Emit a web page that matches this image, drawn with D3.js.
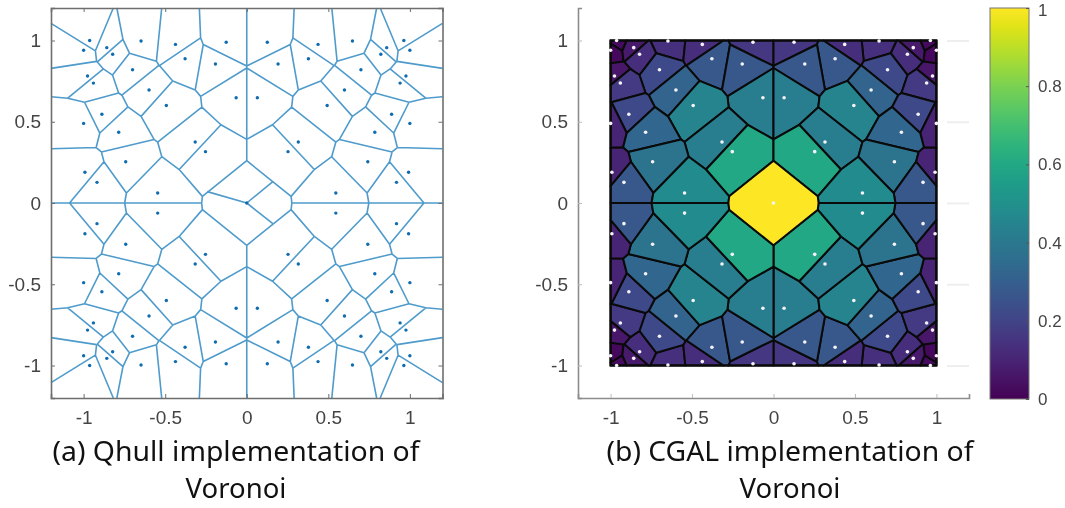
<!DOCTYPE html>
<html><head><meta charset="utf-8">
<script src="https://cdn.jsdelivr.net/npm/d3@7"></script>
<style>
html,body{margin:0;padding:0;background:#fff;}
svg{display:block;filter:blur(0.45px);}
text{font-family:"Liberation Sans",Arial,sans-serif;}
</style></head><body>
<svg id="chart" width="1065" height="508"></svg>
<script>
// Sites: upper-left, upper-right, lower-right, lower-left, then the centre
const pointX = [
 -.963,-1,-.858,-.822,-.648,-.437,-.126,-.378,-.192,-.70,-.976,-.94,-.599,-.065,-.493,-.888,-1,-.785,-.316,-.253,-.742,-.992,-.918,-.546,
 .963,1,.858,.822,.648,.437,.126,.378,.192,.70,.976,.94,.599,.065,.493,.888,1,.785,.316,.253,.742,.992,.918,.546,
 .963,1,.858,.822,.648,.437,.126,.378,.192,.70,.976,.94,.599,.065,.493,.888,1,.785,.316,.253,.742,.992,.918,.546,
 -.963,-1,-.858,-.822,-.648,-.437,-.126,-.378,-.192,-.70,-.976,-.94,-.599,-.065,-.493,-.888,-1,-.785,-.316,-.253,-.742,-.992,-.918,-.546,
 0];
const pointY = [
 1,.94,.956,.915,.997,.976,.989,.888,.855,.82,.782,.738,.695,.648,.6,.546,.49,.435,.375,.316,.254,.189,.127,.062,
 1,.94,.956,.915,.997,.976,.989,.888,.855,.82,.782,.738,.695,.648,.6,.546,.49,.435,.375,.316,.254,.189,.127,.062,
 -1,-.94,-.956,-.915,-.997,-.976,-.989,-.888,-.855,-.82,-.782,-.738,-.695,-.648,-.6,-.546,-.49,-.435,-.375,-.316,-.254,-.189,-.127,-.062,
 -1,-.94,-.956,-.915,-.997,-.976,-.989,-.888,-.855,-.82,-.782,-.738,-.695,-.648,-.6,-.546,-.49,-.435,-.375,-.316,-.254,-.189,-.127,-.062,
 0];
// Colour value of each CGAL cell, same order
const cellValue = [
 .03,.02,.07,.13,.14,.13,.16,.27,.27,.22,.06,.17,.32,.42,.45,.22,.1,.33,.42,.6,.38,.1,.27,.48,
 .03,.02,.07,.13,.14,.13,.16,.27,.27,.22,.06,.17,.32,.42,.45,.22,.1,.33,.42,.6,.38,.1,.27,.48,
 .03,.02,.07,.13,.14,.13,.16,.27,.27,.22,.06,.17,.32,.42,.45,.22,.1,.33,.42,.6,.38,.1,.27,.48,
 .03,.02,.07,.13,.14,.13,.16,.27,.27,.22,.06,.17,.32,.42,.45,.22,.1,.33,.42,.6,.38,.1,.27,.48,
 1];
// Extra spokes in the Qhull centre cell
const spokeX = [-.242,.16,.16];
const spokeY = [.07,.131,-.127];
const axisTicks = [-1,-.5,0,.5,1];
const axisLabels = ["-1","-0.5","0","0.5","1"];
const colorTicks = [0,.2,.4,.6,.8,1];
const colorLabels = ["0","0.2","0.4","0.6","0.8","1"];
const captionA = ["(a) Qhull implementation of","Voronoi"];
const captionB = ["(b) CGAL implementation of","Voronoi"];

const svg = d3.select("#chart");
const TXT = "#444";
const FONT = '"Liberation Sans",Arial,sans-serif';
const points = pointX.map((x,i)=>[x,pointY[i]]);
const yScale = d3.scaleLinear().domain([-1.2,1.2]).range([398,8]);
const xA = d3.scaleLinear().domain([-1.2,1.2]).range([51,442.5]);
const xB = d3.scaleLinear().domain([-1.2,1.2]).range([578,969]);

function axes(x, box){
  const grey = box ? "#6e6e6e" : "#8c8c8c";
  const fmt = d => axisLabels[axisTicks.indexOf(d)];
  const gx = svg.append("g").attr("transform",`translate(0,${yScale.range()[0]})`)
    .call(d3.axisBottom(x).tickValues(axisTicks).tickFormat(fmt).tickSize(-4).tickPadding(13));
  const gy = svg.append("g").attr("transform",`translate(${x.range()[0]},0)`)
    .call(d3.axisLeft(yScale).tickValues(axisTicks).tickFormat(fmt).tickSize(-4).tickPadding(10));
  [gx,gy].forEach(g=>{
    g.selectAll("path").attr("stroke",grey).attr("stroke-width",1.6);
    g.selectAll("line").attr("stroke",box?grey:"#bbb");
    g.selectAll("text").attr("fill",TXT).attr("font-size",19).style("font-family",FONT);
  });
  // Right-hand and top axes: full box in (a), only whited-out tick traces in (b)
  const gr = svg.append("g").attr("transform",`translate(${x.range()[1]},0)`)
    .call(d3.axisRight(yScale).tickValues(axisTicks).tickFormat("").tickSize(box?-4:-22));
  gr.selectAll("line").attr("stroke",box?grey:"#eeeeee").attr("stroke-width",box?1:2);
  if(box){
    const gt = svg.append("g").attr("transform",`translate(0,${yScale.range()[1]})`)
      .call(d3.axisTop(x).tickValues(axisTicks).tickFormat("").tickSize(-4));
    gt.selectAll("line").attr("stroke",grey);
    gt.select("path").attr("stroke",grey).attr("stroke-width",1.6);
    gr.select("path").attr("stroke",grey).attr("stroke-width",1.6);
  } else {
    gr.select("path").remove();
  }
}

// Panel (a): Qhull
const delA = d3.Delaunay.from(points,d=>xA(d[0]),d=>yScale(d[1]));
const vorA = delA.voronoi([xA.range()[0],yScale.range()[1],xA.range()[1],yScale.range()[0]]);
svg.append("path").attr("d",vorA.render()).attr("fill","none")
   .attr("stroke","#4f9bcb").attr("stroke-width",1.6);
svg.append("g").selectAll("line").data(spokeX).join("line")
   .attr("x1",xA(0)).attr("y1",yScale(0))
   .attr("x2",d=>xA(d)).attr("y2",(d,i)=>yScale(spokeY[i]))
   .attr("stroke","#4f9bcb").attr("stroke-width",1.6);
svg.append("g").selectAll("circle").data(points).join("circle")
   .attr("cx",d=>xA(d[0])).attr("cy",d=>yScale(d[1])).attr("r",1.7).attr("fill","#0f6cb0");
axes(xA,true);

// Panel (b): CGAL
const color = d3.scaleSequential(d3.interpolateViridis).domain([0,1]);
const delB = d3.Delaunay.from(points,d=>xB(d[0]),d=>yScale(d[1]));
const vorB = delB.voronoi([xB(-1),yScale(1),xB(1),yScale(-1)]);
svg.append("g").selectAll("path").data(points).join("path")
   .attr("d",(d,i)=>vorB.renderCell(i))
   .attr("fill",(d,i)=>color(cellValue[i]))
   .attr("stroke","#0a0a0a").attr("stroke-width",2).attr("stroke-linejoin","round");
svg.append("rect").attr("x",xB(-1)).attr("y",yScale(1)).attr("width",xB(1)-xB(-1)).attr("height",yScale(-1)-yScale(1))
   .attr("fill","none").attr("stroke","#0a0a0a").attr("stroke-width",2.2);
svg.append("g").selectAll("circle").data(points).join("circle")
   .attr("cx",d=>xB(d[0])).attr("cy",d=>yScale(d[1])).attr("r",1.8).attr("fill","#f6f3f8");
axes(xB,false);

// Colour bar
const cb = d3.scaleLinear().domain([0,1]).range([399,8]);
const defs = svg.append("defs");
const grad = defs.append("linearGradient").attr("id","vir").attr("x1",0).attr("x2",0).attr("y1",1).attr("y2",0);
d3.range(0,1.0001,.05).forEach(t=>grad.append("stop").attr("offset",t).attr("stop-color",color(t)));
svg.append("rect").attr("x",990).attr("y",8).attr("width",39).attr("height",391)
   .attr("fill","url(#vir)").attr("stroke","#777").attr("stroke-width",1);
const gc = svg.append("g").attr("transform","translate(1029,0)")
   .call(d3.axisRight(cb).tickValues(colorTicks).tickFormat(d=>colorLabels[colorTicks.indexOf(d)]).tickSize(-3).tickPadding(9));
gc.select("path").remove();
gc.selectAll("line").attr("stroke","#555");
gc.selectAll("text").attr("fill",TXT).attr("font-size",17).style("font-family",FONT)
  .attr("y",d=>d===1?2.5:null);

// Captions
function caption(lines,cx){
  lines.forEach((t,i)=>{
    svg.append("text").attr("x",cx).attr("y",461+i*36.5).attr("text-anchor","middle")
      .attr("fill","#111").attr("font-size",27.5).style("font-family",'"Noto Sans",sans-serif')
      .attr("textLength",i==0?367:null).attr("lengthAdjust","spacingAndGlyphs").text(t);
  });
}
caption(captionA,236);
caption(captionB,790);
</script></body></html>
